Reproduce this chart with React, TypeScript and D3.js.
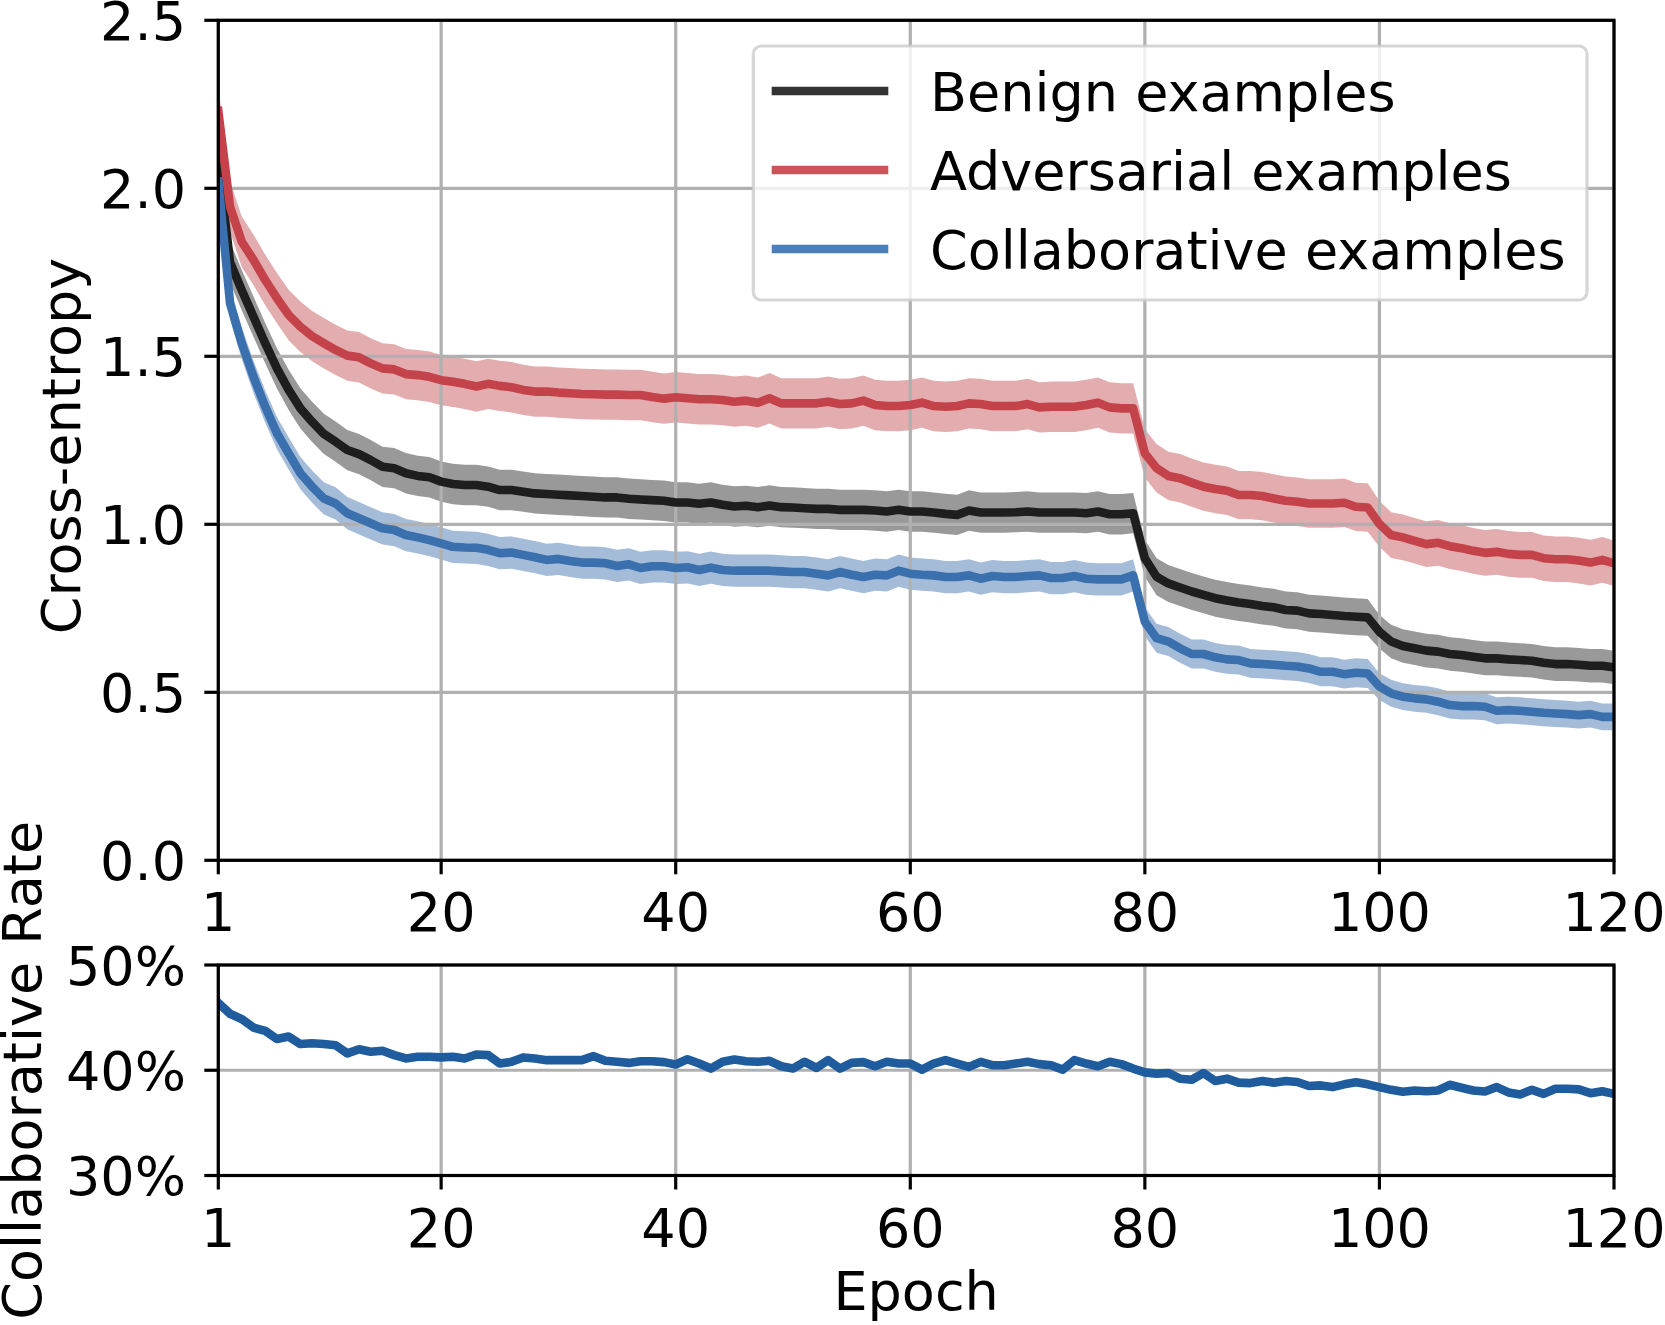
import React from 'react';
import * as d3 from 'd3';

// mean cross-entropy per epoch (1..120)
const benign = [
  2.08, 1.78, 1.697, 1.618, 1.539, 1.464, 1.4, 1.345, 1.305, 1.269,
  1.246, 1.221, 1.209, 1.191, 1.171, 1.167, 1.152, 1.144, 1.14, 1.127,
  1.12, 1.117, 1.117, 1.112, 1.102, 1.102, 1.097, 1.092, 1.09, 1.088,
  1.086, 1.084, 1.082, 1.08, 1.08, 1.076, 1.074, 1.072, 1.07, 1.065,
  1.065, 1.061, 1.065, 1.058, 1.053, 1.055, 1.051, 1.056, 1.051, 1.05,
  1.048, 1.046, 1.046, 1.043, 1.043, 1.043, 1.041, 1.038, 1.043, 1.038,
  1.038, 1.035, 1.031, 1.028, 1.041, 1.035, 1.035, 1.035, 1.036, 1.038,
  1.035, 1.035, 1.035, 1.035, 1.033, 1.038, 1.03, 1.03, 1.033, 0.899,
  0.844, 0.824, 0.812, 0.8, 0.79, 0.78, 0.773, 0.767, 0.763, 0.757,
  0.753, 0.745, 0.743, 0.735, 0.733, 0.73, 0.727, 0.725, 0.723, 0.68,
  0.651, 0.638, 0.631, 0.624, 0.621, 0.614, 0.611, 0.606, 0.601, 0.601,
  0.598, 0.596, 0.594, 0.588, 0.584, 0.584, 0.582, 0.579, 0.579, 0.574,
];

const adversarial = [
  2.23, 1.945, 1.841, 1.787, 1.727, 1.673, 1.623, 1.588, 1.56, 1.539,
  1.519, 1.502, 1.497, 1.479, 1.464, 1.461, 1.447, 1.444, 1.439, 1.429,
  1.424, 1.418, 1.41, 1.418, 1.412, 1.408, 1.4, 1.395, 1.395, 1.392,
  1.39, 1.388, 1.387, 1.386, 1.386, 1.385, 1.385, 1.379, 1.374, 1.378,
  1.375, 1.372, 1.372, 1.37, 1.365, 1.368, 1.362, 1.375, 1.36, 1.36,
  1.36, 1.36, 1.365, 1.358, 1.36, 1.368, 1.355, 1.352, 1.352, 1.355,
  1.362, 1.352, 1.35, 1.352, 1.36, 1.358, 1.352, 1.352, 1.352, 1.358,
  1.348, 1.35, 1.35, 1.35, 1.355, 1.362, 1.348, 1.345, 1.345, 1.211,
  1.167, 1.144, 1.137, 1.124, 1.112, 1.105, 1.1, 1.087, 1.087, 1.084,
  1.077, 1.07, 1.067, 1.062, 1.062, 1.062, 1.064, 1.052, 1.05, 1.001,
  0.968, 0.961, 0.951, 0.941, 0.945, 0.935, 0.929, 0.921, 0.915, 0.918,
  0.912, 0.909, 0.909, 0.899, 0.896, 0.896, 0.892, 0.886, 0.894, 0.884,
];

const collaborative = [
  2.02, 1.658, 1.539, 1.439, 1.35, 1.271, 1.211, 1.152, 1.112, 1.077,
  1.062, 1.033, 1.018, 1.003, 0.988, 0.983, 0.968, 0.961, 0.953, 0.943,
  0.933, 0.931, 0.93, 0.924, 0.914, 0.916, 0.909, 0.902, 0.894, 0.897,
  0.891, 0.886, 0.886, 0.884, 0.876, 0.881, 0.87, 0.875, 0.875, 0.87,
  0.872, 0.864, 0.871, 0.864, 0.862, 0.862, 0.862, 0.862, 0.86, 0.858,
  0.858, 0.853, 0.848, 0.858, 0.85, 0.843, 0.85, 0.848, 0.862, 0.853,
  0.85, 0.848, 0.843, 0.843, 0.848, 0.838, 0.846, 0.843, 0.843, 0.846,
  0.848, 0.84, 0.84, 0.846, 0.838, 0.836, 0.836, 0.836, 0.848, 0.71,
  0.661, 0.651, 0.631, 0.614, 0.614, 0.604, 0.598, 0.596, 0.586, 0.584,
  0.582, 0.579, 0.577, 0.571, 0.561, 0.561, 0.554, 0.558, 0.556, 0.517,
  0.497, 0.487, 0.482, 0.479, 0.472, 0.462, 0.459, 0.459, 0.457, 0.445,
  0.447, 0.445, 0.442, 0.439, 0.437, 0.435, 0.432, 0.435, 0.427, 0.427,
];

// shaded band half-width, per learning-rate phase
const phaseStarts = [1, 80, 100];
const benignSpread = [0.06, 0.055, 0.05];
const adversarialSpread = [0.075, 0.072, 0.068];
const collaborativeSpread = [0.048, 0.043, 0.04];

// collaborative rate in percent
const collabRate = [
  46.4, 45.37, 44.86, 44.06, 43.74, 42.97, 43.2, 42.49, 42.56, 42.49,
  42.37, 41.6, 42.0, 41.76, 41.85, 41.44, 41.12, 41.28, 41.28, 41.22,
  41.28, 41.12, 41.5, 41.44, 40.64, 40.8, 41.22, 41.12, 40.96, 40.96,
  40.96, 40.96, 41.34, 40.9, 40.8, 40.7, 40.86, 40.86, 40.77, 40.55,
  41.05, 40.64, 40.16, 40.8, 41.02, 40.86, 40.8, 40.9, 40.38, 40.16,
  40.8, 40.22, 40.96, 40.16, 40.7, 40.77, 40.38, 40.8, 40.64, 40.64,
  40.06, 40.64, 40.96, 40.64, 40.32, 40.8, 40.48, 40.48, 40.64, 40.8,
  40.58, 40.48, 40.06, 40.96, 40.64, 40.38, 40.8, 40.58, 40.16, 39.8,
  39.68, 39.74, 39.2, 39.1, 39.74, 38.98, 39.2, 38.82, 38.78, 38.98,
  38.82, 38.98, 38.88, 38.5, 38.56, 38.4, 38.66, 38.85, 38.66, 38.4,
  38.14, 37.95, 38.08, 38.01, 38.08, 38.62, 38.34, 38.08, 37.98, 38.4,
  37.89, 37.7, 38.14, 37.76, 38.24, 38.24, 38.18, 37.82, 38.01, 37.76,
];

const xTicks = [1, 20, 40, 60, 80, 100, 120];
const lossTicks = [0, 0.5, 1, 1.5, 2, 2.5];
const rateTicks = [30, 40, 50];

const series = [
  { name: 'Benign examples', values: benign, spread: benignSpread, color: '#1e1e1e', band: '#000000', bandOpacity: 0.4, legend: '#333333' },
  { name: 'Adversarial examples', values: adversarial, spread: adversarialSpread, color: '#c4434a', band: '#c44e52', bandOpacity: 0.47, legend: '#c9555b' },
  { name: 'Collaborative examples', values: collaborative, spread: collaborativeSpread, color: '#3a70ae', band: '#4c7ab4', bandOpacity: 0.5, legend: '#4a7fb9' },
];

const W = 1665;
const H = 1325;
const left = 218.3;
const right = 1614;
const topA = 20.3;
const botA = 860.3;
const topB = 965;
const botB = 1175.5;
const font = 'DejaVu Sans';
const fs = 54;
const gridColor = '#b0b0b0';
const lw = 3.2;
const tickLen = 14;

const x = d3.scaleLinear().domain([1, 120]).range([left, right]);
const yLoss = d3.scaleLinear().domain([0, 2.5]).range([botA, topA]);
const yRate = d3.scaleLinear().domain([30, 50]).range([botB, topB]);

const spreadAt = (spread: number[], epoch: number) =>
  spread[d3.bisectRight(phaseStarts, epoch) - 1];

const App: React.FC = () => {
  const line = d3
    .line<number>()
    .x((_, i) => x(i + 1))
    .y((d) => yLoss(d));

  const area = (s: (typeof series)[number]) =>
    d3
      .area<number>()
      .x((_, i) => x(i + 1))
      .y0((d, i) => yLoss(d - spreadAt(s.spread, i + 1)))
      .y1((d, i) => yLoss(d + spreadAt(s.spread, i + 1)))(s.values) || '';

  const rateLine =
    d3
      .line<number>()
      .x((_, i) => x(i + 1))
      .y((d) => yRate(d))(collabRate) || '';

  const panel = (y0: number, y1: number, yTicks: number[], yScale: d3.ScaleLinear<number, number>, fmt: (v: number) => string, key: string, children: React.ReactNode) => (
    <g key={key}>
      <clipPath id={`clip-${key}`}>
        <rect x={left} y={y0} width={right - left} height={y1 - y0} />
      </clipPath>
      {/* grid */}
      {xTicks.map((t) => (
        <line key={`gx${t}`} x1={x(t)} x2={x(t)} y1={y0} y2={y1} stroke={gridColor} strokeWidth={lw} />
      ))}
      {yTicks.map((t) => (
        <line key={`gy${t}`} x1={left} x2={right} y1={yScale(t)} y2={yScale(t)} stroke={gridColor} strokeWidth={lw} />
      ))}
      <g clipPath={`url(#clip-${key})`}>{children}</g>
      {/* spines */}
      <rect x={left} y={y0} width={right - left} height={y1 - y0} fill="none" stroke="#000" strokeWidth={lw} />
      {/* ticks */}
      {xTicks.map((t) => (
        <g key={`tx${t}`}>
          <line x1={x(t)} x2={x(t)} y1={y1} y2={y1 + tickLen} stroke="#000" strokeWidth={lw} />
          <text x={x(t)} y={y1 + 71} textAnchor="middle" fontSize={fs} fontFamily={font}>
            {t}
          </text>
        </g>
      ))}
      {yTicks.map((t) => (
        <g key={`ty${t}`}>
          <line x1={left - tickLen} x2={left} y1={yScale(t)} y2={yScale(t)} stroke="#000" strokeWidth={lw} />
          <text x={186} y={yScale(t) + 19.7} textAnchor="end" fontSize={fs} fontFamily={font}>
            {fmt(t)}
          </text>
        </g>
      ))}
    </g>
  );

  const lossLines = series.map((s) => (
    <path
      key={`l-${s.name}`}
      d={line(s.values) || ''}
      fill="none"
      stroke={s.color}
      strokeWidth={8.6}
      strokeLinejoin="round"
      strokeLinecap="square"
    />
  ));

  const legendX = 753.3;
  const legendY = 46;
  const legendW = 1587 - 753.3;
  const legendH = 254;
  const rows = [91, 170, 249];

  return (
    <svg
      width={W}
      height={H}
      viewBox={`0 0 ${W} ${H}`}
      style={{ position: 'absolute', left: 0, top: 0, background: '#fff' }}
    >
      <rect x={0} y={0} width={W} height={H} fill="#fff" />
      {/* bands go under the grid, lines above it */}
      <clipPath id="clip-bands">
        <rect x={left} y={topA} width={right - left} height={botA - topA} />
      </clipPath>
      <g clipPath="url(#clip-bands)">
        {series.map((s) => (
          <path key={`b-${s.name}`} d={area(s)} fill={s.band} fillOpacity={s.bandOpacity} stroke="none" />
        ))}
      </g>
      {panel(topA, botA, lossTicks, yLoss, d3.format('.1f'), 'loss', lossLines)}
      {panel(topB, botB, rateTicks, yRate, (v) => `${v}%`, 'rate', (
        <path d={rateLine} fill="none" stroke="#1f5c9e" strokeWidth={8.6} strokeLinejoin="round" strokeLinecap="square" />
      ))}

      {/* legend */}
      <rect
        x={legendX}
        y={legendY}
        width={legendW}
        height={legendH}
        rx={8}
        fill="#fff"
        fillOpacity={0.8}
        stroke="#cccccc"
        strokeOpacity={0.8}
        strokeWidth={3.2}
      />
      {series.map((s, i) => (
        <g key={`lg-${s.name}`}>
          <line x1={771.7} x2={888.3} y1={rows[i]} y2={rows[i]} stroke={s.legend} strokeWidth={8.6} />
          <text x={930} y={rows[i] + 19.7} fontSize={fs} fontFamily={font}>
            {s.name}
          </text>
        </g>
      ))}

      {/* axis labels */}
      <text
        transform={`translate(80,446) rotate(-90)`}
        textAnchor="middle"
        fontSize={fs}
        fontFamily={font}
      >
        Cross-entropy
      </text>
      <text
        transform={`translate(41,${(topB + botB) / 2}) rotate(-90)`}
        textAnchor="middle"
        fontSize={fs}
        fontFamily={font}
      >
        Collaborative Rate
      </text>
      <text x={(left + right) / 2} y={1310} textAnchor="middle" fontSize={fs} fontFamily={font}>
        Epoch
      </text>
    </svg>
  );
};

export default App;
